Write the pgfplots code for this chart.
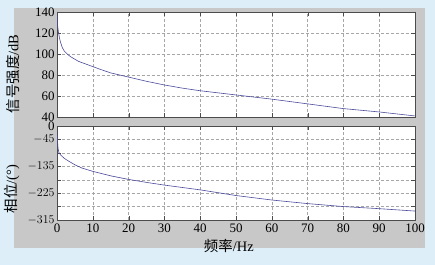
\documentclass[border=0pt]{standalone}
\usepackage{pgfplots}
\pgfplotsset{compat=1.18}
\usepackage{fontspec}
\setmainfont{Liberation Serif}
\newfontfamily\cjk{Noto Sans CJK SC}
\definecolor{bgblue}{HTML}{DDEEF8}
\definecolor{figgray}{HTML}{C8C8C8}
\definecolor{curve}{HTML}{4A4A9C}
\pgfplotsset{
  mystyle/.style={
    scale only axis, width=358bp, anchor=south west,
    xmin=0, xmax=100, xtick={0,10,...,100},
    axis background/.style={fill=white},
    grid=major, major grid style={densely dashed, gray!70, line width=0.4pt},
    tick align=inside, tick style={black!70},
    axis line style={black!70},
    ticklabel style={font=\fontsize{13}{13}\selectfont},
    yticklabel style={xshift=1bp},
    /pgf/number format/assume math mode=true,
    clip=true,
  }
}
\begin{document}
\begin{tikzpicture}[x=1bp,y=1bp]
\fill[bgblue] (0,0) rectangle (435,265);
\fill[figgray] (14,17) rectangle (425,257);
\begin{axis}[mystyle, at={(57bp,148bp)}, height=105bp,
  ymin=40, ymax=140, ytick={40,60,...,140}, xticklabels={},
  ylabel={\cjk 信号强度\rmfamily/dB},
  ylabel style={font=\fontsize{14.5}{14.5}\selectfont, at={(axis description cs:-0.123,0.41)}, anchor=center}]
\addplot[curve, line width=0.6pt] coordinates {
(0,140)(0.1,132)(0.2,126)(0.4,121)(0.7,115)(1,111)(1.5,106)(2,103)(3,99.5)(4,97)(5,95)(6,93)(8,90.5)(10,88)(12,85.5)(15,82)(20,78)(25,74)(30,70.5)(35,67.5)(40,65)(45,63)(50,61)(60,57)(70,52.5)(80,48)(90,44.8)(100,41)
};
\end{axis}
\begin{axis}[mystyle, at={(57bp,45bp)}, height=94bp,
  ymin=-315, ymax=0, ytick={-315,-270,...,0},
  yticklabels={$-315$,,$-225$,,$-135$,,$-45$,0},
  ylabel={\cjk 相位\rmfamily/(\textdegree)},
  ylabel style={font=\fontsize{14.5}{14.5}\selectfont, at={(axis description cs:-0.126,0.33)}, anchor=center},
  xlabel={\cjk 频率\rmfamily/Hz},
  xlabel style={font=\fontsize{14.5}{14.5}\selectfont, at={(axis description cs:0.48,-0.277)}, anchor=center}]
\addplot[curve, line width=0.6pt] coordinates {
(0,-20)(0.1,-40)(0.2,-60)(0.3,-75)(0.5,-88)(1,-97)(2,-108)(3,-116)(5,-130)(7,-141)(10,-152)(15,-167)(20,-179)(25,-189)(30,-198)(35,-206)(40,-214)(50,-233)(60,-248)(70,-260)(80,-270)(90,-277)(100,-285)
};
\end{axis}
\end{tikzpicture}
\end{document}
